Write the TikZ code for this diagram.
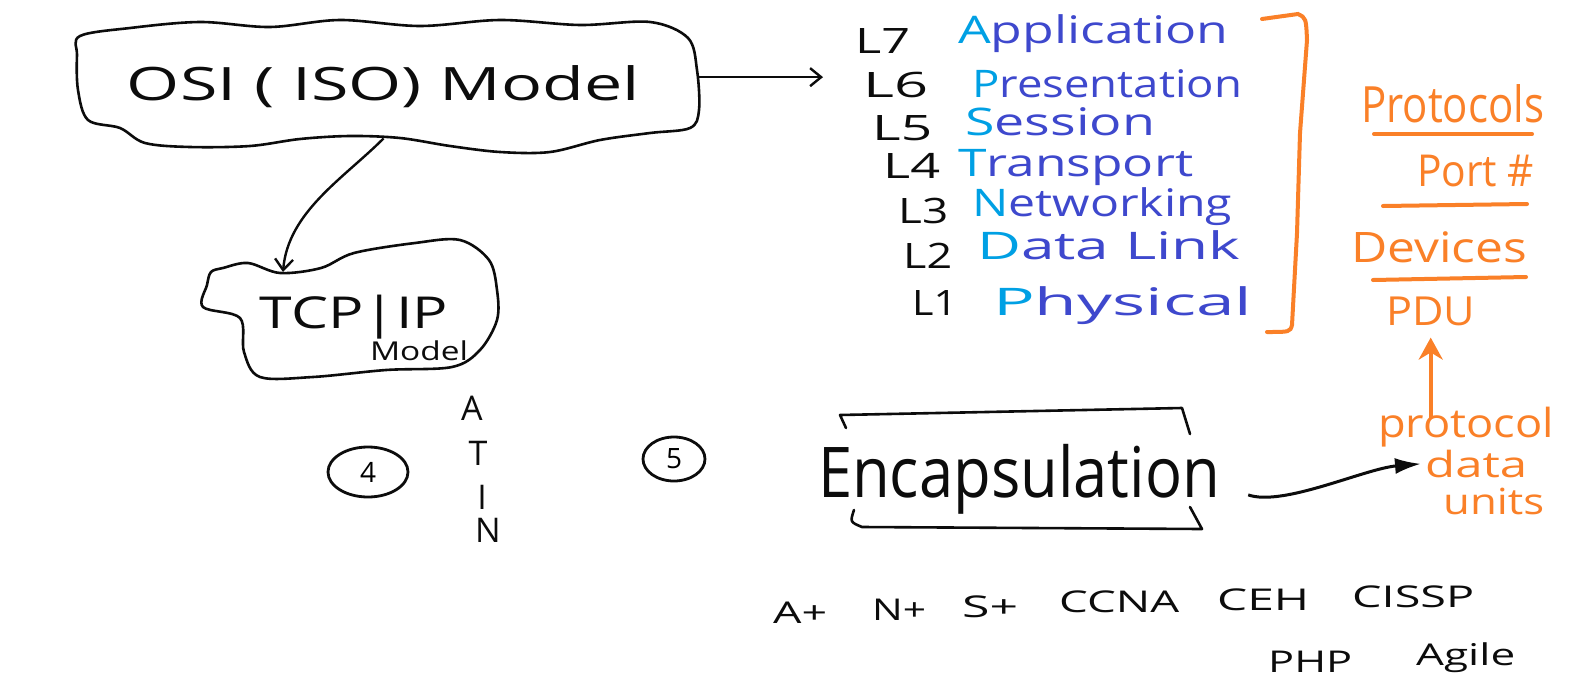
\documentclass[tikz,border=0pt]{standalone}
\usepackage{fontspec}
\setmainfont{Open Sans}
\usepackage{graphicx}
\usetikzlibrary{arrows.meta,positioning,shapes.geometric}
\definecolor{inkblack}{RGB}{12,12,12}
\definecolor{inkblue}{RGB}{62,72,205}
\definecolor{inkcyan}{RGB}{0,160,228}
\definecolor{inkorange}{RGB}{250,128,40}
% squeeze or stretch a text to a given width, keep its height
\newcommand{\hw}[2]{\resizebox{#1}{\height}{#2}}
\tikzset{
  cloudline/.style={draw=inkblack, line width=2.6pt, line join=round, line cap=round},
  modelarr/.style={-{Straight Barb[length=11pt,width=18pt]}, inkblack, line width=2.4pt},
  encarr/.style={-{Latex[length=26pt,width=16pt]}, inkblack, line width=3pt},
  pduarr/.style={-{Stealth[length=22pt,width=24pt]}, inkorange, line width=4pt},
  orgline/.style={draw=inkorange, line width=4pt, line cap=round},
  lyrlbl/.style={anchor=base west, inner sep=0pt, text=inkblack, font=\fontsize{35}{40}\selectfont},
  lyrname/.style={anchor=base west, inner sep=0pt, text=inkblue, font=\fontsize{38}{44}\selectfont},
  orgtxt/.style={anchor=base west, inner sep=0pt, text=inkorange, font=\fontsize{40}{46}\selectfont},
  certtxt/.style={anchor=base west, inner sep=0pt, text=inkblack, font=\fontsize{30}{36}\selectfont},
  circnum/.style={ellipse, draw=inkblack, line width=2.8pt, inner sep=0pt, font=\fontsize{28}{32}\selectfont},
}

\begin{document}
\begin{tikzpicture}[x=1pt,y=-1pt]
  \path[use as bounding box, fill=white] (0,0) rectangle (1573,691);
%---------------- models ----------------
  \node[anchor=base, inner xsep=57pt, inner ysep=31pt, text height=53pt, text=inkblack,
        font=\fontsize{46}{50}\selectfont] (osi) at (383.5,100) {\hw{513pt}{OSI ( ISO) Model}};
  \draw[cloudline] plot[smooth cycle, tension=0.55] coordinates {
    (80,36) (130,28) (200,22) (270,27) (340,20) (420,26) (500,20) (580,25) (650,22)
    (688,38) (697,70) (699,110) (690,128) (650,133) (600,140) (550,152) (500,152)
    (450,146) (400,138) (350,136) (300,139) (250,146) (190,147) (145,143) (120,128)
    (88,120) (78,90) (77,55)};
  \node[anchor=base, text=inkblack, font=\fontsize{44}{48}\selectfont] (tcp) at (354,328) {\hw{188pt}{TCP|IP}};
  \node[anchor=base, text=inkblack, font=\fontsize{26}{30}\selectfont] (tcpmodel) at (419,360) {\hw{98pt}{Model}};
  \draw[cloudline] plot[smooth cycle, tension=0.55] coordinates {
    (207,285) (211,272) (223,268) (248,263) (280,273) (321,268) (354,253) (415,243)
    (460,240) (489,260) (497,290) (497,320) (480,350) (452,367) (386,370) (313,377)
    (260,377) (244,352) (240,318) (203,307)};
  \coordinate (tcpnotch) at (283,272);
  \draw[modelarr] (osi.south) .. controls +(-40,40) and +(5,-60) .. (tcpnotch);
%---------------- OSI layers ----------------
  \node[lyrlbl] (lab7) at (855,53)  {\hw{55pt}{L7}};
  \node[lyrlbl] (lab6) at (863,97)  {\hw{65pt}{L6}};
  \node[lyrlbl] (lab5) at (872,140) {\hw{60pt}{L5}};
  \node[lyrlbl] (lab4) at (883,178) {\hw{57pt}{L4}};
  \node[lyrlbl] (lab3) at (898,223) {\hw{50pt}{L3}};
  \node[lyrlbl] (lab2) at (903,268) {\hw{49pt}{L2}};
  \node[lyrlbl] (lab1) at (912,315) {\hw{45pt}{L1}};
  \node[lyrname] (lyr7) at (958,43)  {\hw{270pt}{\textcolor{inkcyan}{A}pplication}};
  \node[lyrname] (lyr6) at (972,97)  {\hw{270pt}{\textcolor{inkcyan}{P}resentation}};
  \node[lyrname] (lyr5) at (965,135) {\hw{190pt}{\textcolor{inkcyan}{S}ession}};
  \node[lyrname] (lyr4) at (958,176) {\hw{235pt}{\textcolor{inkcyan}{T}ransport}};
  \node[lyrname] (lyr3) at (972,216) {\hw{260pt}{\textcolor{inkcyan}{N}etworking}};
  \node[lyrname] (lyr2) at (977,259) {\hw{263pt}{\textcolor{inkcyan}{D}ata Link}};
  \node[lyrname] (lyr1) at (993,315) {\hw{259pt}{\textcolor{inkcyan}{P}hysical}};
  \draw[modelarr, shorten >=40pt] (osi.east) -- (osi.east -| lab6.west);
  % bracket round the layers
  \draw[orgline] (1262,19) .. controls (1280,16) .. (1298,14)
    .. controls (1306,18) .. (1307,40) -- (1300,133) -- (1297,233) -- (1292,325)
    .. controls (1290,332) .. (1267,332);
%---------------- orange column ----------------
  \node[orgtxt, font=\fontsize{50}{56}\selectfont] (protocols) at (1361,122) {\hw{183pt}{Protocols}};
  \draw[orgline] (1374,134) -- (1532,134);
  \node[orgtxt, font=\fontsize{44}{50}\selectfont] (portno) at (1417,186) {\hw{117pt}{Port \#}};
  \draw[orgline] (1383,206) -- (1527,204);
  \node[orgtxt, font=\fontsize{42}{48}\selectfont] (devices) at (1351,262) {\hw{176pt}{Devices}};
  \draw[orgline] (1373,280) -- (1526,277);
  \node[orgtxt] (pdu) at (1386,325) {\hw{89pt}{PDU}};
  \node[orgtxt] (protocol) at (1378,437) {\hw{176pt}{protocol}};
  \node[orgtxt, font=\fontsize{36}{40}\selectfont] (data) at (1425,477) {\hw{102pt}{data}};
  \node[orgtxt, font=\fontsize{36}{40}\selectfont] (units) at (1443,514) {\hw{101pt}{units}};
  \draw[pduarr, shorten <=-12pt, shorten >=12pt] (protocol.north -| pdu.south) -- (pdu.south);
%---------------- middle row ----------------
  \node[circnum, minimum width=80pt, minimum height=50pt] (four) at (368,472) {4};
  \node[circnum, minimum width=62pt, minimum height=44pt] (five) at (674,459) {5};
  \node[text=inkblack, font=\fontsize{34}{38}\selectfont] (lta) at (472,408) {A};
  \node[text=inkblack, font=\fontsize{34}{38}\selectfont] (ltt) at (478,453) {T};
  \node[text=inkblack, font=\fontsize{34}{38}\selectfont] (lti) at (482,497) {I};
  \node[text=inkblack, font=\fontsize{34}{38}\selectfont] (ltn) at (488,530) {N};
  \node[anchor=base, inner xsep=28pt, text depth=49pt, text=inkblack,
        font=\fontsize{70}{76}\selectfont] (encap) at (1019,497) {\hw{402pt}{Encapsulation}};
  \draw[cloudline] (846,428) -- (840,415) -- (1182,408) -- (1190,434);
  \draw[cloudline] (854,510) .. controls (850,522) .. (862,527) -- (1202,529) -- (1190,507);
  \draw[encarr, shorten >=4pt] (encap.east) .. controls +(35,12) and +(-60,5) .. (data.west);
%---------------- certifications ----------------
  \node[certtxt] (aplus) at (773,623) {\hw{54pt}{A+}};
  \node[certtxt] (nplus) at (872,620) {\hw{54pt}{N+}};
  \node[certtxt] (splus) at (962,617) {\hw{56pt}{S+}};
  \node[certtxt] (ccna)  at (1059,612) {\hw{120pt}{CCNA}};
  \node[certtxt] (ceh)   at (1217,610) {\hw{92pt}{CEH}};
  \node[certtxt] (cissp) at (1352,607) {\hw{122pt}{CISSP}};
  \node[certtxt] (php)   at (1268,672) {\hw{84pt}{PHP}};
  \node[certtxt] (agile) at (1416,665) {\hw{99pt}{Agile}};
\end{tikzpicture}
\end{document}
